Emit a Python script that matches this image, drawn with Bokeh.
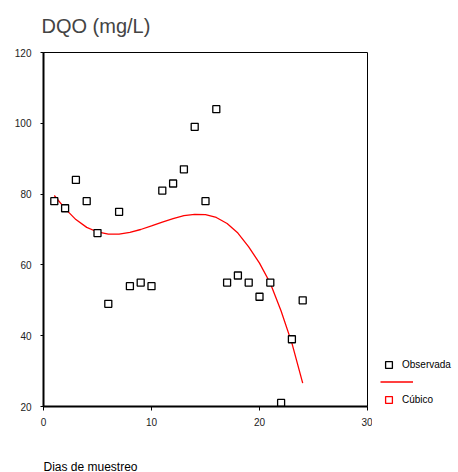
from bokeh.plotting import figure
from bokeh.layouts import row, column
from bokeh.models import Range1d, Legend, LegendItem, FixedTicker, Label
from bokeh.embed import file_html
from bokeh.resources import INLINE

# ---- data ----
days = list(range(1, 25))
observada = [78, 76, 84, 78, 69, 49, 75, 54, 55, 54, 81, 83,
             87, 99, 78, 104, 55, 57, 55, 51, 55, 21, 39, 50]
cubico = [79.6, 75.9, 72.8, 70.6, 69.3, 68.7, 68.7, 69.2, 70.0, 71.0, 72.1, 73.1,
          73.9, 74.3, 74.2, 73.4, 71.7, 69.0, 65.1, 60.5, 54.8, 47.0, 37.9, 26.6]
x_ticks = [0, 10, 20, 30]
y_ticks = [20, 40, 60, 80, 100, 120]
title_text = "DQO (mg/L)"
x_label_text = "Dias de muestreo"
legend_labels = ["Observada", "Cúbico"]

FONT = "Liberation Sans"

p = figure(width=372, height=446, output_backend="svg", toolbar_location=None,
           x_range=Range1d(0, 30), y_range=Range1d(20, 120),
           min_border_left=43, min_border_right=5,
           min_border_top=52, min_border_bottom=40)

p.xgrid.visible = False
p.ygrid.visible = False
p.outline_line_color = "black"
p.outline_line_width = 1
p.background_fill_color = "white"
p.border_fill_color = "white"

p.title.text = title_text
p.title.text_font = FONT
p.title.text_font_size = "20px"
p.title.text_font_style = "normal"
p.title.align = "left"
p.title.vertical_align = "top"
p.title.offset = -2
p.title.standoff = 27

p.xaxis.ticker = FixedTicker(ticks=x_ticks)
p.yaxis.ticker = FixedTicker(ticks=y_ticks)
for ax in (p.xaxis[0], p.yaxis[0]):
    ax.axis_line_width = 2
    ax.axis_line_color = "black"
    ax.major_tick_in = 0
    ax.minor_tick_line_color = None
    ax.major_tick_line_color = "black"
    ax.major_label_text_font = FONT
    ax.major_label_text_font_size = "10px"
    ax.major_label_text_color = "#222222"
p.xaxis[0].major_tick_out = 4
p.xaxis[0].major_label_standoff = 7
p.yaxis[0].major_tick_out = 3
p.yaxis[0].major_label_standoff = 9

curve = p.line(days, cubico, line_color="red", line_width=1.3)
obs = p.scatter(days, observada, marker="square", size=7,
                line_color="black", fill_color="white", line_width=1.3)

# ---- legend panel on the right (frames are aligned with the main plot) ----
q = figure(width=86, height=446, output_backend="svg", toolbar_location=None,
           x_axis_location=None, y_axis_location=None,
           min_border_left=0, min_border_right=0, min_border_top=52, min_border_bottom=40)
q.grid.visible = False
q.outline_line_color = None
q.border_fill_color = "white"
q.background_fill_color = "white"

# legend proxies (hidden; only their legend glyphs are shown)
leg_obs = q.scatter(days, observada, marker="square", size=7,
                    line_color="black", fill_color="white", line_width=1.3, visible=False)
leg_line = q.line(days, cubico, line_color="red", line_width=1.3, visible=False)
leg_cub = q.scatter(days, cubico, marker="square", size=7,
                    line_color="red", fill_color="white", line_width=1.3, visible=False)


def make_legend(items, loc, gw, lh):
    lg = Legend(items=items, location=loc, orientation="vertical",
                glyph_width=gw, glyph_height=17, label_height=lh,
                label_standoff=5, padding=0, margin=0, spacing=0,
                border_line_color=None, background_fill_alpha=0,
                label_text_font=FONT, label_text_font_size="10px",
                label_text_color="black")
    q.add_layout(lg)


make_legend([LegendItem(label=legend_labels[0], renderers=[leg_obs])], (8, 30.5), 17, 23)
make_legend([LegendItem(label="", renderers=[leg_line])], (8, 16.5), 33, 17)
make_legend([LegendItem(label=legend_labels[1], renderers=[leg_cub])], (8, -4.5), 17, 23)

# ---- strip below for the x-axis caption ----
r = figure(width=458, height=26, output_backend="svg", toolbar_location=None,
           x_axis_location=None, y_axis_location=None,
           min_border_left=43, min_border_right=91, min_border_top=0, min_border_bottom=0)
r.grid.visible = False
r.outline_line_color = None
r.border_fill_color = "white"
r.background_fill_color = "white"
r.add_layout(Label(x=0, y=6, x_units="screen", y_units="screen", text=x_label_text,
                   text_font=FONT, text_font_size="12px", text_baseline="middle",
                   text_color="black"))

layout = column(row(p, q, spacing=0), r, spacing=0)
open("out.html", "w").write(file_html(layout, INLINE))
